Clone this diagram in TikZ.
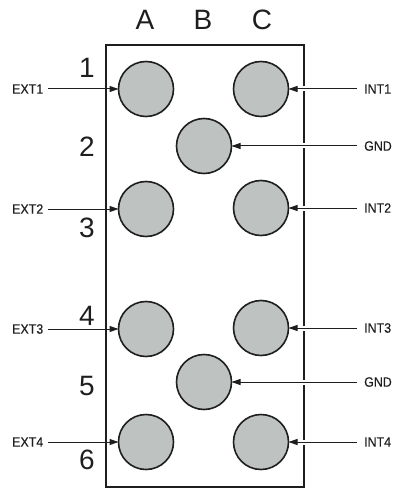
\documentclass[tikz,border=0pt]{standalone}
\usepackage{fontspec}
\setmainfont{Liberation Sans}
\newfontfamily\sigfont[FakeBold=0.3]{Liberation Sans}
\usetikzlibrary{arrows.meta}
\definecolor{pinfill}{RGB}{190,195,194}
\definecolor{ink}{RGB}{30,30,30}
\begin{document}
\begin{tikzpicture}[x=1pt,y=-1pt,
  pin/.style={circle,draw=ink,line width=1.6pt,fill=pinfill,minimum size=55pt,inner sep=0pt},
  big/.style={font=\fontsize{28}{28}\selectfont,inner sep=0pt,text=ink},
  sig/.style={font=\sigfont\fontsize{13.5}{14}\selectfont,inner sep=0pt,text=ink,xscale=0.92},
  feed/.style={ink,line width=1pt,-{Triangle[length=9pt,width=6pt]},
    preaction={draw=white,line width=5pt,shorten >=14pt,shorten <=2pt,-}}]
\useasboundingbox (0,0) rectangle (394,489);
\draw[ink,line width=2pt] (106,45) rectangle (304,487);
% column labels
\node[big] (la) at (145,20) {A};
\node[big] (lb) at (203,20) {B};
\node[big] (lc) at (262,20) {C};
% row labels
\node[big] (r1) at (87,68) {1};
\node[big] (r2) at (87,147) {2};
\node[big] (r3) at (87,228) {3};
\node[big] (r4) at (87,316) {4};
\node[big] (r5) at (87,386) {5};
\node[big] (r6) at (87,460) {6};
% signal labels
\node[sig,anchor=west] (e1) at (12,89) {EXT1};
\node[sig,anchor=west] (e2) at (12,209) {EXT2};
\node[sig,anchor=west] (e3) at (12,329) {EXT3};
\node[sig,anchor=west] (e4) at (12,442) {EXT4};
\node[sig,anchor=west] (i1) at (364,89) {INT1};
\node[sig,anchor=west] (g1) at (364,146) {GND};
\node[sig,anchor=west] (i2) at (364,208) {INT2};
\node[sig,anchor=west] (i3) at (364,328) {INT3};
\node[sig,anchor=west] (g2) at (364,382) {GND};
\node[sig,anchor=west] (i4) at (364,442) {INT4};
% pin coordinates
\coordinate (pa1) at (146,89);
\coordinate (pc1) at (261,89);
\coordinate (pb2) at (204,146);
\coordinate (pa3) at (146,209);
\coordinate (pc3) at (261,208);
\coordinate (pa4) at (146,329);
\coordinate (pc4) at (261,328);
\coordinate (pb5) at (204,382);
\coordinate (pa6) at (146,442);
\coordinate (pc6) at (261,442);
% arrows
\draw[feed] ([xshift=5pt]e1.east) -- ([xshift=-27.5pt]pa1);
\draw[feed] ([xshift=5pt]e2.east) -- ([xshift=-27.5pt]pa3);
\draw[feed] ([xshift=5pt]e3.east) -- ([xshift=-27.5pt]pa4);
\draw[feed] ([xshift=5pt]e4.east) -- ([xshift=-27.5pt]pa6);
\draw[feed] ([xshift=-7pt]i1.west) -- ([xshift=27.5pt]pc1);
\draw[feed] ([xshift=-7pt]g1.west) -- ([xshift=27.5pt]pb2);
\draw[feed] ([xshift=-7pt]i2.west) -- ([xshift=27.5pt]pc3);
\draw[feed] ([xshift=-7pt]i3.west) -- ([xshift=27.5pt]pc4);
\draw[feed] ([xshift=-7pt]g2.west) -- ([xshift=27.5pt]pb5);
\draw[feed] ([xshift=-7pt]i4.west) -- ([xshift=27.5pt]pc6);
% pins
\foreach \p in {a1,c1,b2,a3,c3,a4,c4,b5,a6,c6}
  \node[pin] (\p) at (p\p) {};
\end{tikzpicture}
\end{document}
